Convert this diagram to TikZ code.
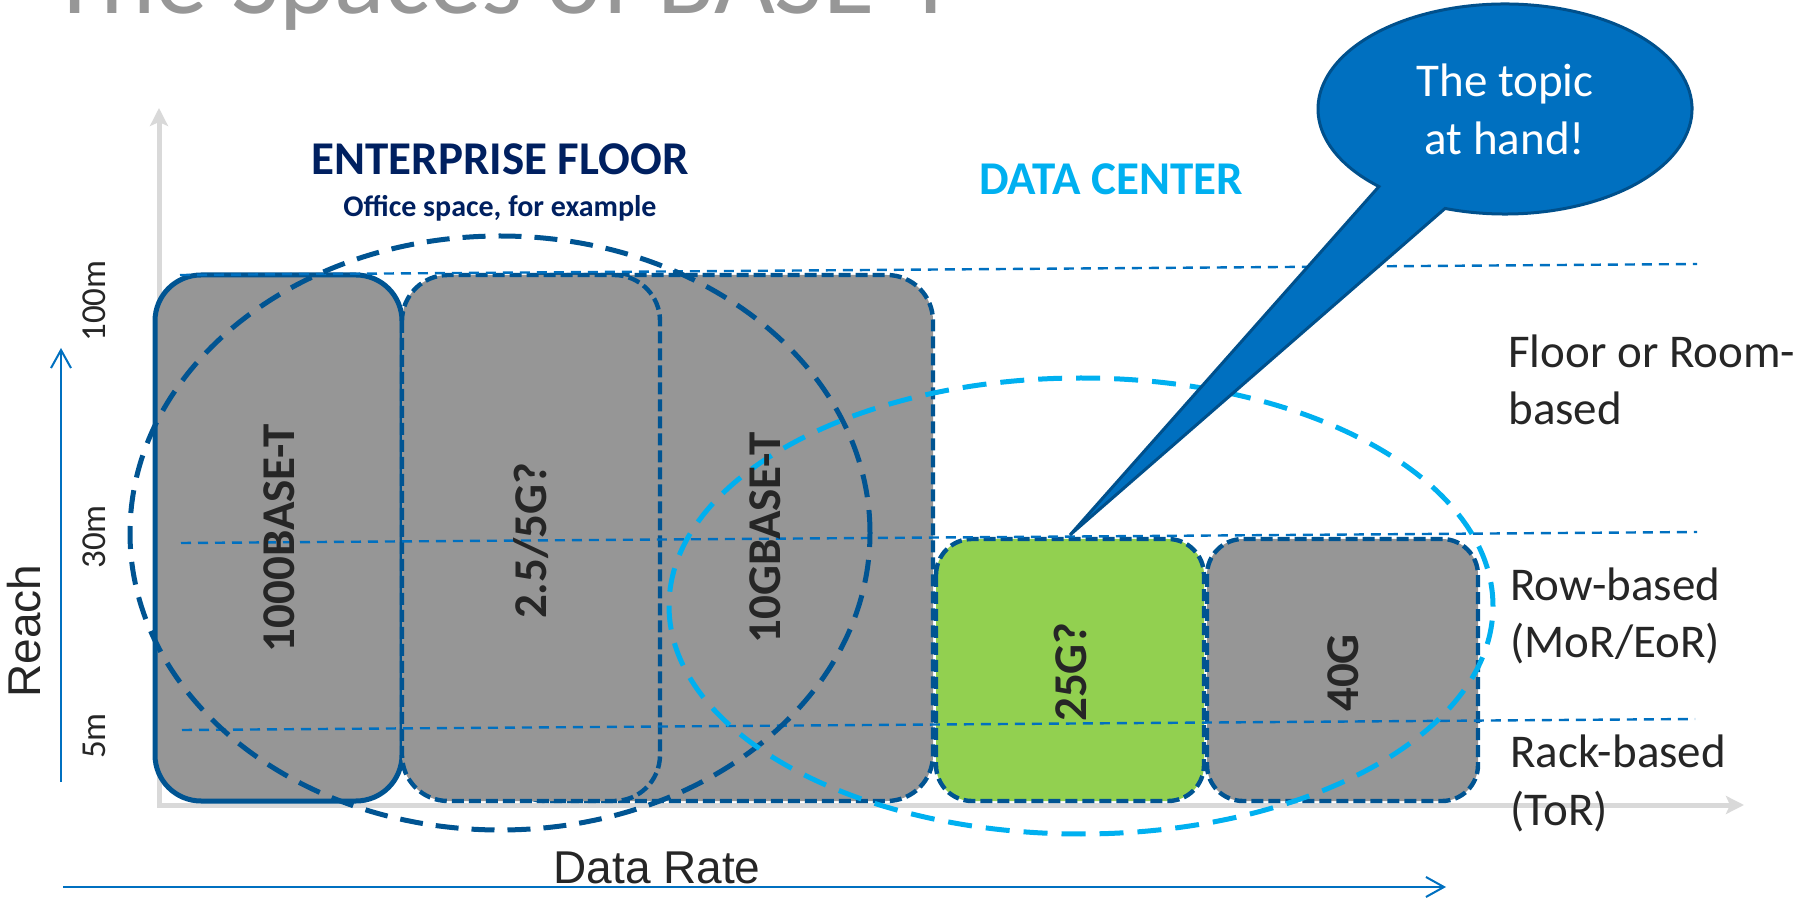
\documentclass[tikz,border=0pt]{standalone}
\usepackage{fontspec}
\setmainfont{Carlito}
\newfontfamily\arialfont{Liberation Sans}
\usetikzlibrary{calc,arrows.meta}
\definecolor{axisgray}{HTML}{D9D9D9}
\definecolor{boxgray}{HTML}{969696}
\definecolor{edgeblue}{HTML}{005492}
\definecolor{lineblue}{HTML}{0070C0}
\definecolor{dcblue}{HTML}{00B0F0}
\definecolor{navy}{HTML}{002060}
\definecolor{boxgreen}{HTML}{92D050}
\definecolor{ink}{HTML}{262626}
\definecolor{titlegray}{HTML}{979797}
\definecolor{calloutedge}{HTML}{00508C}
\tikzset{
  axisline/.style={draw=axisgray, line width=2.5pt},
  bluearrow/.style={draw=lineblue, line width=1pt, -{Straight Barb[length=9pt,width=10pt]}},
  refline/.style={draw=lineblue, line width=1.2pt, dash pattern=on 5pt off 3.5pt},
  solidbox/.style={fill=boxgray, draw=edgeblue, line width=2.5pt, rounded corners=23pt},
  dashbox/.style={fill=boxgray, draw=edgeblue, line width=2.2pt, dash pattern=on 6pt off 2.5pt, rounded corners=23pt},
  smallbox/.style={dashbox, rounded corners=18pt},
  entring/.style={draw=edgeblue, line width=2.5pt, dash pattern=on 11.5pt off 6.5pt},
  dcring/.style={draw=dcblue, line width=2.5pt, dash pattern=on 12pt off 7pt},
  callout/.style={fill=lineblue, draw=calloutedge, line width=1.5pt},
  boxlab/.style={text=ink, font=\fontsize{23.5}{28}\selectfont\bfseries, rotate=90},
  ticklab/.style={text=ink, font=\fontsize{17.5}{21}\selectfont, rotate=90},
  axislab/.style={text=ink, font=\arialfont\fontsize{23}{27}\selectfont},
  sidelab/.style={text=ink, font=\fontsize{23.5}{28.5}\selectfont, align=left, anchor=base west, inner sep=0pt},
  headlab/.style={font=\fontsize{23.5}{28}\selectfont\bfseries, anchor=base, inner sep=0pt},
}
\begin{document}
\begin{tikzpicture}[x=0.5pt, y=-0.5pt]
  \useasboundingbox (0,0) rectangle (1801,898);

  % title, cut at the top edge
  \node[anchor=base west, inner sep=0pt, text=titlegray, font=\fontsize{52.5}{63}\selectfont] (title) at (49,14) {The Spaces of BASE-T};

  % axes
  \draw[axisline, {Stealth[length=9pt,width=9pt,inset=2pt]}-{Stealth[length=9pt,width=9pt,inset=2pt]}]
    (159,108) -- (159,805) -- (1744,805);
  \draw[bluearrow] (61,782) -- (61,348);
  \draw[bluearrow] (63,887) -- (1446,887);
  \node[axislab, rotate=90] (reach) at (24,631) {Reach};
  \node[axislab, anchor=base] (rate) at (657,883) {Data Rate};
  \node[ticklab] (t100) at (94,301) {100m};
  \node[ticklab] (t30) at (94,537) {30m};
  \node[ticklab] (t5) at (94,736) {5m};

  % boxes
  \draw[dashbox] (500,275) rectangle (933,801);
  \draw[solidbox] (155,275) rectangle (402,801);
  \draw[dashbox] (402,275) rectangle (660,801);
  \draw[smallbox, fill=boxgreen] (936,539) rectangle (1204,801);
  \draw[smallbox] (1207,539) rectangle (1478,801);

  % reach levels
  \draw[refline] (180,275) -- (1697,264);
  \draw[refline] (181,543) -- (1697,532);
  \draw[refline] (182,730) -- (1695,719);

  % the two spaces
  \draw[entring] (500,533) ellipse [x radius=185pt, y radius=148.5pt];
  \draw[dcring] (1081,606) ellipse [x radius=206pt, y radius=114pt];

  \node[boxlab] (b1000) at (279,538) {1000BASE-T};
  \node[boxlab] (b25) at (531,541) {2.5/5G?};
  \node[boxlab] (b10g) at (765,538) {10GBASE-T};
  \node[boxlab] (b25g) at (1070,672) {25G?};
  \node[boxlab] (b40g) at (1343,673) {40G};

  \node[headlab, text=navy] (ent) at (500,175) {ENTERPRISE FLOOR};
  \node[headlab, text=navy, font=\fontsize{15}{18}\selectfont\bfseries] (office) at (500,217) {Office space, for example};
  \node[headlab, text=dcblue] (dc) at (1111,195) {DATA CENTER};

  % base anchor sits on the last line
  \node[sidelab] (floor) at (1508,425) {Floor or Room-\\based};
  \node[sidelab] (row) at (1510,658) {Row-based\\(MoR/EoR)};
  \node[sidelab] (rack) at (1510,825) {Rack-based\\(ToR)};

  % callout
  \coordinate (cc) at (1505,109);
  \coordinate (tip) at (1070,535);
  \draw[callout] (tip) -- ($(cc)+(251.3:93.5pt and 52.5pt)$)
    arc[start angle=251.3, end angle=587.6, x radius=93.5pt, y radius=52.5pt] -- cycle;
  \node[text=white, align=center, font=\fontsize{23.5}{29}\selectfont] (topic) at (cc) {The topic\\at hand!};
\end{tikzpicture}
\end{document}
